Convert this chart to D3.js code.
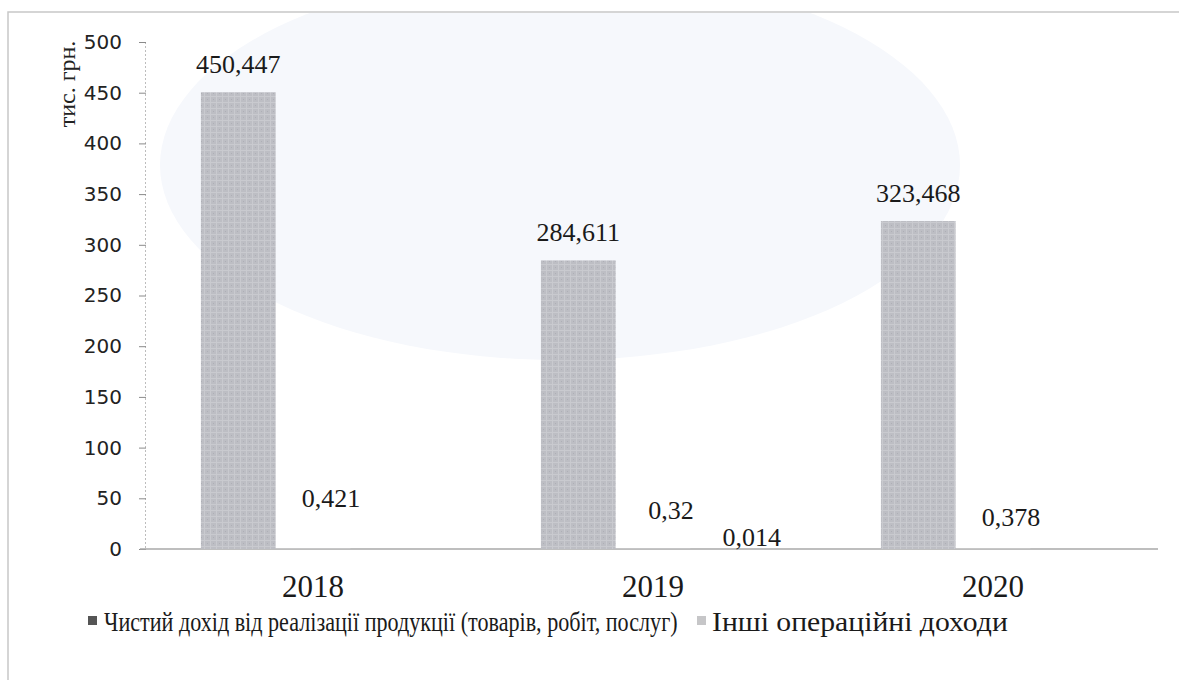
<!DOCTYPE html>
<html>
<head>
<meta charset="utf-8">
<script src="https://cdn.jsdelivr.net/npm/d3@7"></script>
<style>
  html, body { margin: 0; padding: 0; background: #ffffff; }
  svg { display: block; }
</style>
</head>
<body>
<svg id="chart" width="1179" height="680"></svg>
<script>
// ---- data ----
const categories = ["2018", "2019", "2020"];
const seriesNames = [
  "Чистий дохід від реалізації продукції (товарів, робіт, послуг)",
  "Інші операційні доходи",
  ""
];
const netIncome = [450.447, 284.611, 323.468];
const otherIncome = [0.421, 0.32, 0.378];
const thirdSeries = [null, 0.014, null];
const labelTexts0 = ["450,447", "284,611", "323,468"];
const labelTexts1 = ["0,421", "0,32", "0,378"];
const labelTexts2 = [null, "0,014", null];
const yTicks = [0, 50, 100, 150, 200, 250, 300, 350, 400, 450, 500];
const yTitle = "тис. грн.";

// ---- layout ----
const W = 1179, H = 680;
const svg = d3.select("#chart");
const allSeries = [netIncome, otherIncome, thirdSeries];
const allLabels = [labelTexts0, labelTexts1, labelTexts2];
const colors = ["#bcbdc3", "#d4d4d6", "#d4d4d6"];
const serif = "Liberation Serif, Times New Roman, serif";

// background + faint watermark
svg.append("rect").attr("width", W).attr("height", H).attr("fill", "#ffffff");
svg.append("clipPath").attr("id", "frameClip").append("rect")
  .attr("x", 9).attr("y", 13).attr("width", W).attr("height", H);
svg.append("ellipse").attr("clip-path", "url(#frameClip)")
  .attr("cx", 560).attr("cy", 165).attr("rx", 400).attr("ry", 195)
  .attr("fill", "#f6f8fc");

// frame
svg.append("path").attr("d", "M8,680 L8,12 L1179,12")
  .attr("fill", "none").attr("stroke", "#c8c8c8").attr("stroke-width", 1.5);

// pattern for bars
const defs = svg.append("defs");
const pat = defs.append("pattern").attr("id", "tex").attr("patternUnits", "userSpaceOnUse")
  .attr("width", 6).attr("height", 6);
pat.append("rect").attr("width", 6).attr("height", 6).attr("fill", "#bdbec4");
pat.append("path").attr("d", "M0,0.5 H6 M0.5,0 V6").attr("stroke", "#c9cacf").attr("stroke-width", 1);
pat.append("rect").attr("x", 3).attr("y", 3).attr("width", 1).attr("height", 1).attr("fill", "#aeafb6");

const x0 = d3.scaleBand().domain(categories).range([143, 1163]).padding(0);
const barW = x0.bandwidth() / 4.55;
const x1 = d3.scaleBand().domain([0, 1, 2])
  .range([x0.bandwidth() / 2 - 1.5 * barW, x0.bandwidth() / 2 + 1.5 * barW]).padding(0);
const y = d3.scaleLinear().domain([0, 500]).range([549, 42]);

// y axis
const yAxis = d3.axisLeft(y).tickValues(yTicks).tickSize(6).tickPadding(17);
const gy = svg.append("g").attr("transform", "translate(145,0)").call(yAxis);
gy.select(".domain").attr("stroke", "#bdbdbd").attr("stroke-width", 1).attr("stroke-dasharray", "2,2");
gy.selectAll(".tick line").attr("stroke", "#8a8a8a").attr("x2", -6).attr("x1", 1);
gy.selectAll(".tick text").attr("font-family", "DejaVu Sans, Verdana, sans-serif")
  .attr("font-size", 20).attr("fill", "#222");

// y title
svg.append("text").attr("transform", "translate(75,84) rotate(-90)")
  .attr("text-anchor", "middle").attr("font-family", serif)
  .attr("font-size", 24).attr("fill", "#222").text(yTitle);

// x axis line
svg.append("line").attr("x1", 140).attr("x2", 1158).attr("y1", y(0)).attr("y2", y(0))
  .attr("stroke", "#a9a9a9").attr("stroke-width", 1.5);

// category labels
svg.append("g").selectAll("text").data(categories).join("text")
  .attr("x", d => x0(d) + x0.bandwidth() / 2).attr("y", 597)
  .attr("text-anchor", "middle").attr("font-family", serif)
  .attr("font-size", 31).attr("fill", "#1a1a1a").text(d => d);

// bars
allSeries.forEach((vals, s) => {
  svg.append("g").selectAll("rect").data(vals.map((v, i) => ({ v, i })).filter(d => d.v !== null))
    .join("rect")
    .attr("x", d => x0(categories[d.i]) + x1(s))
    .attr("width", x1.bandwidth())
    .attr("y", d => y(d.v))
    .attr("height", d => y(0) - y(d.v))
    .attr("fill", s === 0 ? "url(#tex)" : colors[s]);
});

// data labels
const labelDx = [0, 18, 24];
const labelLift = [
  [19, 19, 19],
  [42, 30, 23],
  [0, 3, 0]
];
allSeries.forEach((vals, s) => {
  svg.append("g").selectAll("text").data(vals.map((v, i) => ({ v, i })).filter(d => d.v !== null))
    .join("text")
    .attr("x", d => x0(categories[d.i]) + x1(s) + x1.bandwidth() / 2 + labelDx[s])
    .attr("y", d => y(d.v) - labelLift[s][d.i])
    .attr("text-anchor", "middle")
    .attr("font-family", serif)
    .attr("font-size", 26).attr("fill", "#1a1a1a")
    .text(d => allLabels[s][d.i]);
});

// legend (condensed serif, scaled horizontally to the reference widths)
const lg = svg.append("g");
const legendItems = [
  { name: seriesNames[0], mx: 88, tx: 104, w: 574, fill: "#555" },
  { name: seriesNames[1], mx: 697, tx: 712, w: 302, fill: "#c6c6c8" }
];
legendItems.forEach(it => {
  lg.append("rect").attr("x", it.mx).attr("y", 616).attr("width", 9).attr("height", 9).attr("fill", it.fill);
  const t = lg.append("text").attr("x", 0).attr("y", 0)
    .attr("font-family", serif).attr("font-size", 27)
    .attr("fill", "#1a1a1a").text(it.name);
  const nat = t.node().getComputedTextLength();
  const sx = Math.min(1.1, it.w / nat);
  t.attr("transform", `translate(${it.tx},631) scale(${sx},1)`);
});
</script>
</body>
</html>
